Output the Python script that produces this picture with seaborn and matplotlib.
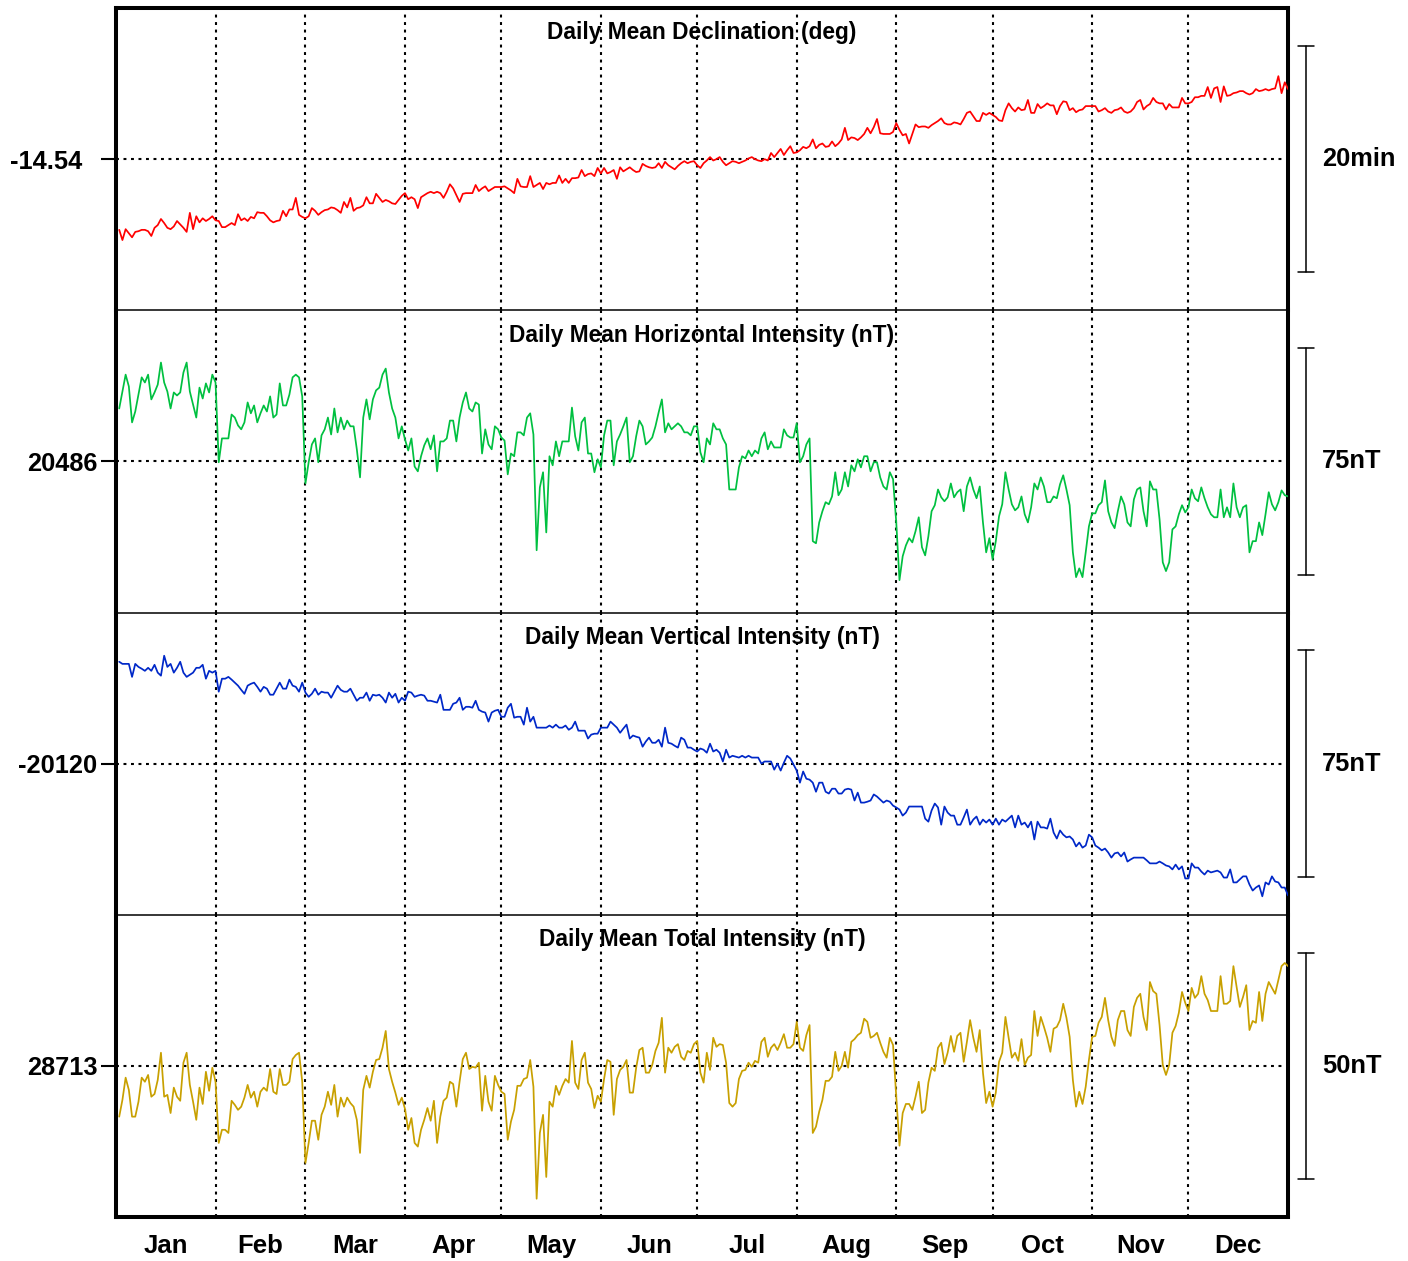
import numpy as np
import pandas as pd
import matplotlib
matplotlib.use("Agg")
import matplotlib.pyplot as plt
import seaborn as sns
from matplotlib.transforms import blended_transform_factory

# ---------------- data (daily means) ----------------
months = ["Jan", "Feb", "Mar", "Apr", "May", "Jun", "Jul", "Aug", "Sep", "Oct", "Nov", "Dec"]
month_days = [31, 28, 31, 30, 31, 30, 31, 31, 30, 31, 30, 31]

declination_deg = [
    -14.644, -14.659, -14.643, -14.649, -14.655, -14.647, -14.646, -14.644, -14.644, -14.646,
    -14.653, -14.641, -14.637, -14.628, -14.634, -14.641, -14.643, -14.639, -14.631, -14.636,
    -14.641, -14.647, -14.619, -14.643, -14.624, -14.633, -14.627, -14.631, -14.628, -14.624,
    -14.630, -14.631, -14.640, -14.640, -14.637, -14.634, -14.637, -14.621, -14.630, -14.627,
    -14.631, -14.625, -14.627, -14.618, -14.619, -14.619, -14.624, -14.630, -14.633, -14.631,
    -14.630, -14.616, -14.624, -14.614, -14.614, -14.597, -14.622, -14.625, -14.627, -14.624,
    -14.612, -14.616, -14.622, -14.618, -14.615, -14.614, -14.611, -14.612, -14.615, -14.619,
    -14.603, -14.611, -14.597, -14.616, -14.612, -14.611, -14.608, -14.596, -14.605, -14.605,
    -14.591, -14.597, -14.603, -14.600, -14.602, -14.605, -14.606, -14.600, -14.594, -14.590,
    -14.599, -14.596, -14.599, -14.612, -14.596, -14.593, -14.590, -14.588, -14.590, -14.588,
    -14.590, -14.597, -14.588, -14.577, -14.583, -14.593, -14.603, -14.591, -14.590, -14.590,
    -14.590, -14.578, -14.587, -14.583, -14.580, -14.587, -14.584, -14.581, -14.581, -14.581,
    -14.580, -14.583, -14.586, -14.590, -14.569, -14.580, -14.581, -14.581, -14.565, -14.581,
    -14.578, -14.575, -14.584, -14.575, -14.577, -14.575, -14.575, -14.564, -14.575, -14.569,
    -14.575, -14.568, -14.568, -14.567, -14.556, -14.565, -14.562, -14.561, -14.565, -14.553,
    -14.561, -14.553, -14.561, -14.559, -14.556, -14.569, -14.552, -14.558, -14.555, -14.552,
    -14.556, -14.559, -14.558, -14.547, -14.550, -14.552, -14.553, -14.552, -14.546, -14.553,
    -14.544, -14.549, -14.552, -14.555, -14.550, -14.546, -14.543, -14.546, -14.544, -14.543,
    -14.549, -14.553, -14.546, -14.542, -14.537, -14.542, -14.540, -14.537, -14.544, -14.549,
    -14.546, -14.543, -14.544, -14.546, -14.544, -14.542, -14.539, -14.537, -14.540, -14.542,
    -14.543, -14.540, -14.542, -14.531, -14.537, -14.531, -14.525, -14.534, -14.527, -14.521,
    -14.531, -14.530, -14.527, -14.522, -14.524, -14.521, -14.511, -14.524, -14.519, -14.517,
    -14.522, -14.521, -14.514, -14.521, -14.517, -14.511, -14.494, -14.512, -14.508, -14.509,
    -14.512, -14.508, -14.503, -14.494, -14.502, -14.493, -14.481, -14.502, -14.503, -14.503,
    -14.503, -14.500, -14.487, -14.497, -14.505, -14.503, -14.517, -14.503, -14.489, -14.493,
    -14.492, -14.492, -14.494, -14.490, -14.487, -14.484, -14.480, -14.487, -14.489, -14.489,
    -14.486, -14.487, -14.489, -14.481, -14.472, -14.470, -14.477, -14.484, -14.484, -14.472,
    -14.475, -14.472, -14.475, -14.478, -14.483, -14.484, -14.468, -14.458, -14.465, -14.470,
    -14.464, -14.468, -14.467, -14.453, -14.472, -14.472, -14.459, -14.465, -14.462, -14.458,
    -14.461, -14.461, -14.474, -14.462, -14.455, -14.456, -14.468, -14.465, -14.471, -14.468,
    -14.467, -14.462, -14.462, -14.462, -14.462, -14.470, -14.468, -14.465, -14.470, -14.472,
    -14.468, -14.467, -14.464, -14.470, -14.472, -14.470, -14.465, -14.456, -14.453, -14.467,
    -14.462, -14.459, -14.450, -14.456, -14.458, -14.458, -14.467, -14.459, -14.464, -14.464,
    -14.464, -14.450, -14.458, -14.458, -14.456, -14.449, -14.449, -14.447, -14.447, -14.434,
    -14.450, -14.436, -14.434, -14.456, -14.433, -14.447, -14.446, -14.443, -14.442, -14.440,
    -14.440, -14.443, -14.445, -14.443, -14.437, -14.440, -14.439, -14.437, -14.439, -14.437,
    -14.436, -14.418, -14.443, -14.427, -14.437,
]

horizontal_nT = [
    20503.5, 20509.1, 20514.7, 20510.8, 20498.9, 20502.5, 20508.1, 20513.8, 20512.1, 20514.7,
    20506.5, 20508.8, 20511.4, 20518.7, 20512.1, 20509.1, 20503.5, 20508.8, 20507.8, 20508.8,
    20515.4, 20518.7, 20509.1, 20504.8, 20500.5, 20510.4, 20506.8, 20511.8, 20508.8, 20514.7,
    20512.1, 20485.7, 20493.6, 20493.6, 20493.6, 20501.5, 20500.5, 20497.9, 20496.6, 20498.9,
    20505.5, 20501.9, 20504.5, 20498.9, 20501.9, 20504.5, 20502.5, 20507.5, 20500.5, 20501.5,
    20511.8, 20504.5, 20504.5, 20508.1, 20513.8, 20514.7, 20513.8, 20507.5, 20478.7, 20485.7,
    20491.6, 20493.6, 20485.7, 20494.6, 20496.6, 20500.5, 20494.9, 20503.5, 20495.6, 20500.5,
    20496.6, 20499.5, 20497.6, 20497.6, 20490.0, 20480.7, 20500.5, 20506.5, 20499.9, 20506.5,
    20509.5, 20510.4, 20514.7, 20516.7, 20508.8, 20503.5, 20500.5, 20493.6, 20497.6, 20493.3,
    20489.6, 20493.6, 20484.3, 20482.7, 20487.7, 20491.3, 20493.6, 20490.0, 20494.6, 20482.7,
    20492.6, 20492.6, 20493.6, 20499.5, 20499.5, 20492.6, 20500.5, 20505.5, 20508.8, 20503.5,
    20502.5, 20505.5, 20504.8, 20488.6, 20496.6, 20491.6, 20490.0, 20497.6, 20496.6, 20493.9,
    20492.9, 20481.7, 20488.6, 20487.7, 20495.6, 20495.6, 20494.6, 20500.5, 20501.9, 20494.9,
    20456.6, 20477.4, 20482.4, 20462.5, 20487.7, 20484.7, 20492.6, 20487.7, 20492.6, 20492.6,
    20492.6, 20503.8, 20494.3, 20489.6, 20498.9, 20500.5, 20488.6, 20488.6, 20482.4, 20486.7,
    20484.0, 20494.6, 20499.5, 20499.5, 20484.7, 20492.6, 20494.9, 20497.6, 20500.5, 20485.7,
    20487.7, 20494.3, 20499.5, 20497.6, 20491.6, 20492.6, 20493.9, 20497.6, 20502.2, 20506.5,
    20495.6, 20498.6, 20496.6, 20497.6, 20498.6, 20497.6, 20495.6, 20495.6, 20494.6, 20497.6,
    20497.6, 20489.0, 20485.7, 20493.6, 20491.6, 20498.6, 20496.6, 20496.6, 20493.6, 20491.6,
    20476.7, 20476.7, 20476.7, 20484.0, 20487.7, 20487.0, 20489.6, 20487.7, 20489.6, 20488.6,
    20493.6, 20495.6, 20490.0, 20492.6, 20490.6, 20490.6, 20490.6, 20496.6, 20494.6, 20493.9,
    20493.9, 20498.6, 20485.7, 20487.7, 20491.6, 20493.6, 20459.6, 20458.9, 20465.8, 20469.5,
    20472.5, 20471.8, 20474.4, 20482.4, 20474.8, 20476.7, 20482.4, 20477.7, 20484.7, 20482.7,
    20486.7, 20484.0, 20487.7, 20487.7, 20482.7, 20485.7, 20485.7, 20480.7, 20477.7, 20476.7,
    20482.4, 20480.1, 20465.8, 20446.7, 20454.6, 20458.2, 20460.6, 20459.2, 20462.9, 20467.5,
    20457.6, 20454.9, 20461.2, 20469.5, 20471.5, 20476.7, 20474.1, 20472.8, 20474.1, 20478.7,
    20474.1, 20475.8, 20476.7, 20469.5, 20477.7, 20480.7, 20476.7, 20473.8, 20477.7, 20465.8,
    20455.9, 20460.6, 20453.6, 20459.6, 20467.8, 20471.8, 20482.4, 20476.7, 20471.8, 20469.8,
    20470.8, 20474.4, 20468.5, 20465.8, 20470.8, 20478.7, 20476.7, 20480.7, 20477.7, 20472.5,
    20472.5, 20474.4, 20473.8, 20478.4, 20481.4, 20476.7, 20471.5, 20455.9, 20447.7, 20450.6,
    20447.7, 20455.9, 20464.5, 20468.8, 20468.8, 20471.5, 20472.5, 20479.7, 20469.5, 20465.8,
    20463.9, 20469.5, 20474.4, 20471.8, 20465.8, 20464.5, 20473.4, 20476.7, 20477.4, 20469.5,
    20464.5, 20479.4, 20476.7, 20476.7, 20466.8, 20452.6, 20449.7, 20452.6, 20463.5, 20464.5,
    20468.5, 20471.5, 20469.1, 20470.8, 20476.7, 20473.8, 20472.8, 20477.4, 20473.8, 20470.8,
    20468.5, 20467.5, 20467.5, 20476.7, 20467.5, 20470.8, 20467.5, 20478.7, 20470.8, 20467.5,
    20470.8, 20471.5, 20455.9, 20459.6, 20459.6, 20465.8, 20461.6, 20468.5, 20475.8, 20471.8,
    20469.8, 20472.5, 20476.4, 20474.8, 20474.4,
]

vertical_nT = [
    -20086.3, -20087.0, -20087.0, -20087.0, -20091.3, -20087.0, -20088.0, -20088.6, -20089.3, -20088.3,
    -20089.3, -20087.3, -20089.9, -20090.9, -20084.3, -20088.0, -20087.0, -20089.9, -20088.3, -20086.3,
    -20089.9, -20091.3, -20090.6, -20089.9, -20088.3, -20088.3, -20087.3, -20091.9, -20089.3, -20089.9,
    -20089.3, -20096.2, -20091.9, -20091.9, -20091.3, -20092.2, -20093.2, -20094.2, -20095.6, -20096.9,
    -20094.2, -20093.6, -20093.2, -20094.6, -20096.2, -20094.6, -20095.2, -20097.2, -20097.2, -20095.2,
    -20093.2, -20095.2, -20095.2, -20092.2, -20094.2, -20094.6, -20096.2, -20093.2, -20096.5, -20097.9,
    -20096.9, -20095.2, -20097.2, -20096.2, -20096.5, -20096.5, -20098.2, -20096.2, -20094.2, -20095.6,
    -20096.2, -20096.2, -20095.2, -20097.2, -20099.2, -20098.2, -20098.2, -20096.5, -20099.2, -20097.2,
    -20097.5, -20097.2, -20098.2, -20099.8, -20096.5, -20098.2, -20096.9, -20099.8, -20098.2, -20099.2,
    -20096.2, -20096.5, -20097.9, -20097.5, -20097.2, -20097.5, -20099.2, -20099.2, -20099.5, -20099.8,
    -20097.2, -20102.2, -20102.2, -20102.2, -20100.2, -20099.8, -20098.2, -20102.2, -20101.2, -20101.2,
    -20101.5, -20099.2, -20102.2, -20102.8, -20103.1, -20106.1, -20103.1, -20102.5, -20102.2, -20104.5,
    -20104.5, -20101.5, -20100.2, -20104.8, -20104.5, -20104.5, -20107.1, -20101.5, -20106.1, -20104.5,
    -20108.1, -20108.1, -20108.1, -20108.1, -20107.4, -20108.1, -20107.1, -20108.1, -20108.1, -20107.4,
    -20108.8, -20108.1, -20106.1, -20109.1, -20109.1, -20109.1, -20111.7, -20110.4, -20110.1, -20110.1,
    -20108.1, -20108.1, -20108.1, -20106.1, -20107.1, -20108.1, -20109.8, -20108.4, -20107.1, -20111.7,
    -20110.7, -20111.1, -20111.4, -20114.4, -20112.7, -20111.4, -20113.1, -20113.1, -20112.1, -20114.4,
    -20108.1, -20113.1, -20113.4, -20114.1, -20114.7, -20111.4, -20112.1, -20114.7, -20114.7, -20115.4,
    -20116.0, -20115.0, -20115.4, -20116.4, -20113.4, -20116.0, -20115.4, -20116.4, -20119.3, -20115.4,
    -20118.0, -20117.4, -20117.7, -20118.0, -20117.4, -20118.0, -20117.4, -20118.0, -20118.0, -20118.0,
    -20120.0, -20119.3, -20119.3, -20119.3, -20122.0, -20120.0, -20122.3, -20119.7, -20117.4, -20118.3,
    -20120.3, -20122.3, -20126.3, -20122.6, -20125.0, -20125.3, -20126.3, -20129.3, -20126.3, -20126.3,
    -20129.3, -20129.9, -20128.3, -20128.3, -20129.9, -20129.9, -20128.6, -20128.3, -20128.6, -20132.2,
    -20129.6, -20132.9, -20132.9, -20132.6, -20132.2, -20130.2, -20130.9, -20131.9, -20132.9, -20132.2,
    -20132.6, -20133.9, -20134.5, -20135.2, -20137.2, -20136.2, -20134.2, -20134.2, -20134.2, -20134.2,
    -20134.2, -20138.2, -20139.2, -20135.5, -20133.2, -20134.5, -20140.2, -20134.2, -20136.2, -20137.2,
    -20137.2, -20140.2, -20140.2, -20137.8, -20135.2, -20140.2, -20138.5, -20137.5, -20140.2, -20138.5,
    -20139.5, -20138.5, -20140.2, -20138.2, -20140.2, -20138.5, -20139.2, -20138.2, -20137.2, -20141.1,
    -20137.2, -20140.2, -20139.5, -20141.1, -20139.2, -20145.1, -20139.2, -20141.1, -20141.1, -20141.5,
    -20138.2, -20142.8, -20144.8, -20142.1, -20143.5, -20144.4, -20144.1, -20145.1, -20147.4, -20146.1,
    -20147.8, -20147.1, -20143.5, -20144.4, -20147.1, -20147.8, -20148.7, -20148.1, -20149.4, -20151.1,
    -20149.7, -20149.4, -20150.7, -20149.4, -20152.4, -20151.7, -20151.1, -20151.1, -20151.1, -20151.1,
    -20152.0, -20153.0, -20153.0, -20153.0, -20152.4, -20153.0, -20153.7, -20154.0, -20155.0, -20153.4,
    -20155.0, -20154.0, -20158.0, -20158.0, -20153.0, -20154.4, -20154.4, -20155.7, -20156.7, -20155.4,
    -20156.0, -20155.7, -20155.4, -20156.0, -20157.7, -20157.7, -20155.0, -20159.3, -20159.3, -20158.3,
    -20157.3, -20157.3, -20160.0, -20162.0, -20161.0, -20160.3, -20163.9, -20159.3, -20160.0, -20157.3,
    -20159.0, -20159.3, -20161.0, -20161.0, -20163.6,
]

total_nT = [
    28701.8, 28705.5, 28710.4, 28707.7, 28701.8, 28701.8, 28705.1, 28710.4, 28709.5, 28711.0,
    28706.2, 28706.8, 28709.9, 28715.9, 28706.2, 28706.6, 28702.6, 28708.2, 28706.2, 28705.3,
    28713.7, 28715.9, 28708.8, 28705.1, 28701.1, 28708.2, 28704.6, 28711.7, 28707.5, 28712.6,
    28709.5, 28696.0, 28698.9, 28698.9, 28698.2, 28705.3, 28704.4, 28703.3, 28704.0, 28706.0,
    28708.8, 28706.0, 28707.3, 28704.0, 28707.3, 28708.2, 28707.5, 28712.3, 28707.3, 28706.8,
    28712.3, 28708.8, 28708.8, 28709.5, 28714.5, 28715.4, 28715.9, 28709.5, 28691.6, 28696.0,
    28700.9, 28700.9, 28696.7, 28702.2, 28704.0, 28707.3, 28704.4, 28708.8, 28701.8, 28706.0,
    28704.0, 28706.0, 28704.8, 28704.0, 28701.1, 28693.8, 28707.7, 28710.8, 28708.2, 28711.7,
    28714.3, 28714.5, 28717.0, 28720.7, 28712.3, 28709.5, 28707.1, 28704.4, 28706.0, 28703.5,
    28698.9, 28701.5, 28696.0, 28695.2, 28698.9, 28701.1, 28703.7, 28700.9, 28705.3, 28696.0,
    28701.8, 28705.3, 28706.0, 28709.5, 28709.0, 28704.0, 28709.5, 28714.5, 28715.9, 28712.3,
    28712.8, 28712.6, 28713.7, 28703.1, 28710.8, 28705.1, 28703.1, 28710.8, 28708.8, 28707.3,
    28706.8, 28696.7, 28700.7, 28703.3, 28708.6, 28708.6, 28710.1, 28710.4, 28714.3, 28708.4,
    28683.7, 28698.2, 28702.2, 28688.5, 28705.1, 28704.0, 28708.6, 28706.6, 28708.6, 28710.1,
    28709.3, 28718.5, 28709.3, 28707.9, 28714.3, 28715.9, 28709.3, 28707.9, 28703.7, 28706.4,
    28705.1, 28710.1, 28714.3, 28713.9, 28702.2, 28710.1, 28712.1, 28712.8, 28714.3, 28707.1,
    28707.1, 28712.6, 28716.5, 28717.0, 28711.5, 28711.5, 28713.2, 28716.3, 28718.1, 28723.6,
    28711.5, 28717.0, 28715.9, 28717.2, 28717.8, 28715.0, 28714.3, 28716.3, 28715.9, 28717.8,
    28718.5, 28711.5, 28709.3, 28715.9, 28712.1, 28719.2, 28717.2, 28717.8, 28717.6, 28713.7,
    28704.8, 28704.0, 28704.8, 28710.1, 28711.9, 28712.1, 28713.7, 28712.8, 28714.1, 28713.7,
    28718.3, 28719.2, 28715.0, 28717.0, 28717.8, 28716.5, 28718.1, 28720.0, 28717.0, 28717.0,
    28717.8, 28722.7, 28717.0, 28716.3, 28719.8, 28722.0, 28698.2, 28699.6, 28702.9, 28705.5,
    28709.7, 28709.7, 28710.6, 28716.1, 28711.9, 28713.0, 28716.1, 28712.6, 28718.3, 28718.9,
    28719.8, 28720.3, 28723.4, 28722.7, 28719.2, 28719.6, 28720.3, 28718.1, 28716.1, 28714.8,
    28719.2, 28717.6, 28706.2, 28695.4, 28702.6, 28704.6, 28704.6, 28703.3, 28706.2, 28709.5,
    28702.6, 28703.3, 28709.3, 28712.6, 28711.9, 28717.0, 28718.1, 28713.4, 28715.9, 28719.6,
    28716.1, 28719.6, 28720.3, 28713.9, 28718.3, 28723.1, 28719.2, 28716.1, 28720.9, 28711.5,
    28704.8, 28707.3, 28704.0, 28707.1, 28713.9, 28715.9, 28723.8, 28719.2, 28714.8, 28715.9,
    28714.1, 28718.9, 28713.2, 28714.8, 28715.4, 28725.1, 28719.6, 28723.8, 28721.6, 28719.2,
    28716.1, 28721.2, 28721.6, 28723.1, 28726.7, 28723.6, 28719.4, 28709.9, 28704.0, 28707.3,
    28704.6, 28708.4, 28714.3, 28719.4, 28719.6, 28722.5, 28723.8, 28728.0, 28723.1, 28719.4,
    28717.4, 28723.1, 28725.1, 28725.1, 28720.9, 28719.6, 28726.0, 28728.0, 28728.9, 28723.8,
    28720.9, 28731.5, 28729.5, 28728.9, 28722.0, 28713.2, 28711.0, 28713.2, 28720.3, 28721.8,
    28724.7, 28729.3, 28726.9, 28725.1, 28730.2, 28728.0, 28728.9, 28732.8, 28728.9, 28727.5,
    28725.1, 28725.1, 28725.1, 28732.8, 28726.7, 28726.7, 28727.3, 28735.0, 28730.4, 28726.0,
    28728.2, 28730.8, 28720.9, 28722.9, 28722.5, 28729.3, 28722.9, 28728.9, 28731.5, 28730.2,
    28728.9, 28731.9, 28735.0, 28735.7, 28735.0,
]

panel_titles = ["Daily Mean Declination (deg)", "Daily Mean Horizontal Intensity (nT)",
                "Daily Mean Vertical Intensity (nT)", "Daily Mean Total Intensity (nT)"]
baselines = [-14.54, 20486, -20120, 28713]
baseline_labels = ["-14.54", "20486", "-20120", "28713"]
scale_sizes = [20.0 / 60.0, 75.0, 75.0, 50.0]      # in data units
scale_labels = ["20min", "75nT", "75nT", "50nT"]
colors = ["#ff0000", "#00c040", "#0028c8", "#c8a000"]
series = [declination_deg, horizontal_nT, vertical_nT, total_nT]

# ---------------- styling ----------------
sns.set_theme(style="white")
plt.rcParams["font.family"] = ["Liberation Sans", "DejaVu Sans"]
plt.rcParams["font.weight"] = "bold"
plt.rcParams["text.color"] = "black"
plt.rcParams["axes.labelcolor"] = "black"
plt.rcParams["xtick.color"] = "black"
plt.rcParams["ytick.color"] = "black"
plt.rcParams["xtick.labelcolor"] = "black"
plt.rcParams["ytick.labelcolor"] = "black"

W, H = 1408, 1261
fig = plt.figure(figsize=(W / 100, H / 100), dpi=100)
left_px, right_px, top_px, bottom_px = 116, 1288, 8, 1217
panel_h = (bottom_px - top_px) / 4.0

days = np.arange(1, 366)
boundaries = np.cumsum(month_days)[:-1]
mids = np.concatenate([[0], np.cumsum(month_days)[:-1]]) + np.array(month_days) / 2.0

thick, thin = 2.9, 1.1
dot_style = (0, (1.4, 2.2))

for k in range(4):
    y0 = top_px + k * panel_h
    ax = fig.add_axes([left_px / W, 1 - (y0 + panel_h) / H,
                       (right_px - left_px) / W, panel_h / H])
    df = pd.DataFrame({"day": days, "value": series[k]})
    sns.lineplot(data=df, x="day", y="value", ax=ax, color=colors[k],
                 linewidth=1.25, estimator=None, zorder=3)
    base, s = baselines[k], scale_sizes[k]
    half = s / 2.0 / 0.75
    ax.set_xlim(0, 365)
    ax.set_ylim(base - half, base + half)
    ax.set_xlabel("")
    ax.set_ylabel("")

    for b in boundaries:
        ax.axvline(b, color="black", lw=1.5, ls=dot_style, zorder=2)
    ax.axhline(base, color="black", lw=1.5, ls=dot_style, zorder=2)

    # spines
    for side in ("left", "right"):
        ax.spines[side].set_linewidth(thick)
        ax.spines[side].set_color("black")
    ax.spines["top"].set_color("black")
    ax.spines["top"].set_linewidth(thick if k == 0 else thin)
    if k == 3:
        ax.spines["bottom"].set_linewidth(thick)
        ax.spines["bottom"].set_color("black")
    else:
        ax.spines["bottom"].set_visible(False)

    # y tick at baseline
    ax.set_yticks([base])
    ax.set_yticklabels([baseline_labels[k]], fontsize=18.3, fontweight="bold", color="black")
    ax.tick_params(axis="y", left=True, length=11, width=1.5, color="black",
                   labelcolor="black", pad=(13.5 if k == 0 else 2.5))

    # x ticks (month names) only on the last panel
    if k == 3:
        ax.set_xticks(mids)
        ax.set_xticklabels(months, fontsize=18.5, fontweight="bold", color="black")
        ax.tick_params(axis="x", bottom=True, length=0, pad=12, labelcolor="black")
    else:
        ax.set_xticks([])

    # title inside panel
    ax.text(0.5, 1 - 25 / panel_h, panel_titles[k], transform=ax.transAxes,
            ha="center", va="center", fontsize=16.4, fontweight="bold",
            color="black", zorder=4)

    # scale bar on the right
    tr = blended_transform_factory(ax.transAxes, ax.transData)
    xb = (1306 - left_px) / (right_px - left_px)
    cap = 8 / (right_px - left_px)
    lo, hi = base - s / 2.0, base + s / 2.0
    ax.plot([xb, xb], [lo, hi], transform=tr, color="black", lw=1.1, clip_on=False)
    ax.plot([xb - cap, xb + cap], [hi, hi], transform=tr, color="black", lw=1.1, clip_on=False)
    ax.plot([xb - cap, xb + cap], [lo, lo], transform=tr, color="black", lw=1.1, clip_on=False)
    ax.text((1322 - left_px) / (right_px - left_px), base, scale_labels[k], transform=tr,
            ha="left", va="center", fontsize=18.3, fontweight="bold", color="black")

fig.savefig("out.png", dpi=100)
